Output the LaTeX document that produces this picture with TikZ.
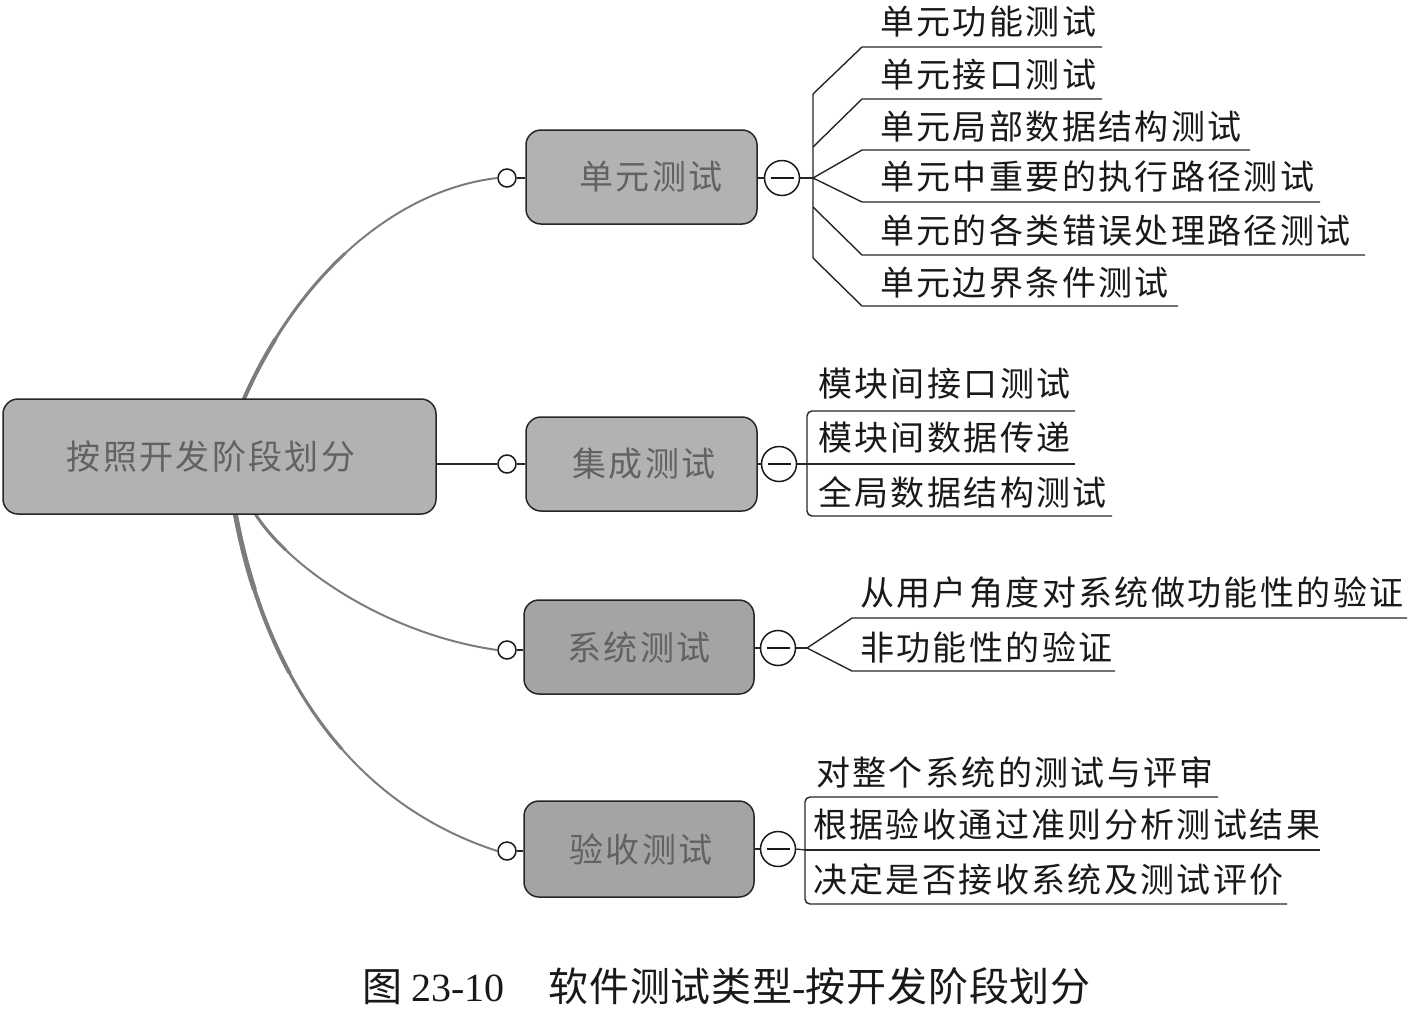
\documentclass[tikz,border=0pt]{standalone}
\usepackage{fontspec}
\setmainfont{Liberation Serif}
\newfontfamily\cjk[LetterSpace=7]{Noto Sans CJK SC}
\newfontfamily\capcjk[LetterSpace=2]{Noto Sans CJK SC}
\usetikzlibrary{calc}
\definecolor{boxfill}{HTML}{B2B2B2}
\definecolor{boxdark}{HTML}{A4A4A4}
\definecolor{boxtext}{HTML}{626262}
\definecolor{curvegray}{HTML}{7C7C7C}
\tikzset{
  x=1pt,y=-1pt,
  topic/.style={draw=black!85,line width=1.5pt,rounded corners=15pt,fill=boxfill,inner sep=0pt,
    text=boxtext,font=\fontsize{34}{34}\cjk},
  leaf/.style={anchor=west,inner sep=0pt,font=\fontsize{34}{34}\cjk,text=black!90},
  port/.style={circle,draw=black!90,fill=white,line width=1.5pt,inner sep=0pt,minimum size=18pt},
  minusport/.style={circle,draw=black!90,fill=white,line width=1.5pt,inner sep=0pt,minimum size=35pt,
    path picture={\draw[line width=1.4pt] ($(path picture bounding box.west)+(6pt,0)$) -- ($(path picture bounding box.east)+(-6pt,0)$);}},
  wire/.style={draw=black!85,line width=1.3pt},
  ruleline/.style={draw=black!85,line width=1.4pt},
}
% a connector that grows thicker near its start: #5 lists radius/width steps
\newcommand{\thickcurve}[5]{%
  \draw[draw=curvegray,line width=2pt] (#1) .. controls (#2) and (#3) .. (#4);
  \foreach \rad/\wid in {#5}{%
    \begin{scope}
      \clip (#1) circle (\rad pt);
      \draw[draw=curvegray,line width=\wid pt] (#1) .. controls (#2) and (#3) .. (#4);
    \end{scope}}%
}
\begin{document}
\begin{tikzpicture}
\useasboundingbox (0,0) rectangle (1416,1015);
% curved connectors (under the boxes)
\coordinate (ra) at (243,401);
\coordinate (rc) at (254,512);
\coordinate (rd) at (235,512);
\node[port] (p1) at (507,178) {};
\node[port] (p2) at (507,464) {};
\node[port] (p3) at (507,650) {};
\node[port] (p4) at (507,851) {};
\thickcurve{ra}{298,275}{395,190}{p1.west}{180/3,70/4}
\thickcurve{rc}{290,570}{390,635}{p3.west}{50/3}
\thickcurve{rd}{262,660}{340,800}{p4.west}{260/3,170/4,80/5}
% boxes
\node[topic,minimum width=433pt,minimum height=115pt] (root) at (219.5,456.5) {按照开发阶段划分\hspace*{17pt}};
\node[topic,minimum width=231pt,minimum height=94pt] (t1) at (641.5,177) {\hspace*{19pt}单元测试};
\node[topic,minimum width=231pt,minimum height=94pt] (t2) at (641.5,464) {\hspace*{5pt}集成测试};
\node[topic,minimum width=230pt,minimum height=94pt,fill=boxdark] (t3) at (639,647) {系统测试};
\node[topic,minimum width=230pt,minimum height=96pt,fill=boxdark] (t4) at (639,849) {\hspace*{4pt}验收测试};
\node[minusport] (m1) at (782,178) {};
\node[minusport] (m2) at (779,464) {};
\node[minusport] (m3) at (778,648) {};
\node[minusport] (m4) at (778,849) {};
% straight connectors
\draw[wire] (root.east |- p2) -- (p2);
\foreach \a/\b in {p1/t1,p2/t2,p3/t3,p4/t4}{\draw[wire] (\a.east) -- (\b.west |- \a);}
\foreach \a/\b in {t1/m1,t2/m2,t3/m3,t4/m4}{\draw[wire] (\a.east |- \b) -- (\b.west);}
% unit test branch
\coordinate (h1) at (813,178);
\draw[wire] (m1.east) -- (h1);
\node[leaf] (a1) at (880,22) {单元功能测试};
\node[leaf] (a2) at (880,75) {单元接口测试};
\node[leaf] (a3) at (880,127) {单元局部数据结构测试};
\node[leaf] (a4) at (880,177) {单元中重要的执行路径测试};
\node[leaf] (a5) at (880,231) {单元的各类错误处理路径测试};
\node[leaf] (a6) at (880,283) {单元边界条件测试};
\draw[ruleline] (h1) -- (813,94) -- (862,47) -- (1102,47);
\draw[ruleline] (813,147) -- (862,99) -- (1102,99);
\draw[ruleline] (h1) -- (862,150) -- (1250,150);
\draw[ruleline] (h1) -- (862,202) -- (1320,202);
\draw[ruleline] (813,207) -- (862,255) -- (1365,255);
\draw[ruleline] (h1) -- (813,258) -- (862,306) -- (1178,306);
% integration branch
\coordinate (h2) at (807,464);
\draw[wire] (m2.east) -- (h2);
\node[leaf] (b1) at (818,384) {模块间接口测试};
\node[leaf] (b2) at (818,438) {模块间数据传递};
\node[leaf] (b3) at (818,492) {全局数据结构测试};
\draw[ruleline,rounded corners=5pt] (1075,411) -- (807,411) -- (807,516) -- (1112,516);
\draw[ruleline] (h2) -- (1075,464);
% system branch
\coordinate (h3) at (807,648);
\draw[wire] (m3.east) -- (h3);
\node[leaf] (c1) at (860,593) {从用户角度对系统做功能性的验证};
\node[leaf] (c2) at (860,647) {非功能性的验证};
\draw[ruleline] (h3) -- (852,618) -- (1407,618);
\draw[ruleline] (h3) -- (852,671) -- (1115,671);
% acceptance branch
\coordinate (h4) at (805,850);
\draw[wire] (m4.east) -- (h4);
\node[leaf] (d1) at (816,772) {对整个系统的测试与评审};
\node[leaf] (d2) at (813,824) {根据验收通过准则分析测试结果};
\node[leaf] (d3) at (813,880) {决定是否接收系统及测试评价};
\draw[ruleline,rounded corners=5pt] (1218,797) -- (805,797) -- (805,904) -- (1287,904);
\draw[ruleline] (h4) -- (1320,850);
% caption
\node[anchor=west,inner sep=0pt,font=\fontsize{40}{40}\selectfont,text=black!90] (cap) at (362,986)
  {{\capcjk 图}\hspace{-1pt} 23-10\hspace{44pt}{\capcjk 软件测试类型}-{\capcjk 按开发阶段划分}};
\end{tikzpicture}
\end{document}
